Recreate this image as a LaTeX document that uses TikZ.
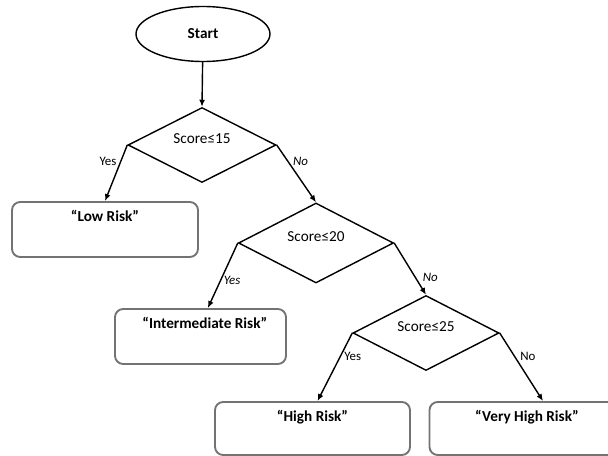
\documentclass[tikz,border=0pt]{standalone}
\usepackage{fontspec}
\setmainfont{Carlito}
\usetikzlibrary{shapes.geometric,arrows.meta}

\tikzset{
  startnode/.style={draw=black, line width=1.2pt, ellipse, font=\bfseries\fontsize{13}{15}\selectfont},
  decision/.style={draw=black, line width=1.2pt, diamond, inner sep=0pt},
  condtext/.style={yshift=0.2cm, inner sep=0pt, font=\fontsize{13}{15}\selectfont},
  outcome/.style={draw=black!55, line width=1.6pt, rounded corners=7pt, inner sep=0pt},
  boxtext/.style={below=0.26cm, inner sep=0pt, font=\bfseries\fontsize{13}{15}\selectfont},
  flow/.style={line width=1.2pt, -{Latex[length=6pt,width=5pt]}},
  answer/.style={inner sep=1pt, font=\fontsize{11}{13}\selectfont},
  slanted/.style={font=\itshape\fontsize{11}{13}\selectfont}
}

\begin{document}
\begin{tikzpicture}[x=0.03cm, y=-0.03cm]
    \useasboundingbox (0,0) rectangle (608,456);
    % pocetak
    \node [startnode, minimum width=4.02cm, minimum height=1.65cm] (start) at (203,34) {Start};
    % tri odluke po skoru
    \node [decision, minimum width=4.44cm, minimum height=2.25cm,
        label={[condtext]center:Score≤15}] (d1) at (202,145) {};
    \node [decision, minimum width=4.65cm, minimum height=2.4cm,
        label={[condtext]center:Score≤20}] (d2) at (316,243) {};
    \node [decision, minimum width=4.38cm, minimum height=2.25cm,
        label={[condtext]center:Score≤25}] (d3) at (426,333) {};
    % ishodi
    \node [outcome, minimum width=5.58cm, minimum height=1.65cm,
        label={[boxtext]north:“Low Risk”}] (low) at (105,229.5) {};
    \node [outcome, minimum width=5.13cm, minimum height=1.65cm,
        label={[boxtext, xshift=0.13cm]north:“Intermediate Risk”}] (inter) at (200.5,336.5) {};
    \node [outcome, minimum width=5.85cm, minimum height=1.59cm,
        label={[boxtext]north:“High Risk”}] (high) at (312.5,428.5) {};
    \node [outcome, minimum width=5.85cm, minimum height=1.59cm,
        label={[boxtext]north:“Very High Risk”}] (vhigh) at (527,428.5) {};
    % veze
    \draw [flow] (start) -- (d1.north);
    \draw [flow] (d1.west) -- (low.north)
        node[answer, pos=0.3, left=2pt] {Yes};
    \draw [flow] (d1.east) -- (d2.north)
        node[answer, slanted, pos=0.28, right=3pt] {No};
    \draw [flow] (d2.west) -- ([xshift=0.22cm]inter.north)
        node[answer, slanted, pos=0.57, right=1pt] {Yes};
    \draw [flow] (d2.east) -- (d3.north)
        node[answer, slanted, pos=0.66, right=5pt] {No};
    \draw [flow] (d3.west) -- ([xshift=0.15cm]high.north)
        node[answer, pos=0.35, right=2pt] {Yes};
    \draw [flow] (d3.east) -- ([xshift=0.48cm]vhigh.north)
        node[answer, pos=0.35, right=3pt] {No};
\end{tikzpicture}
\end{document}
